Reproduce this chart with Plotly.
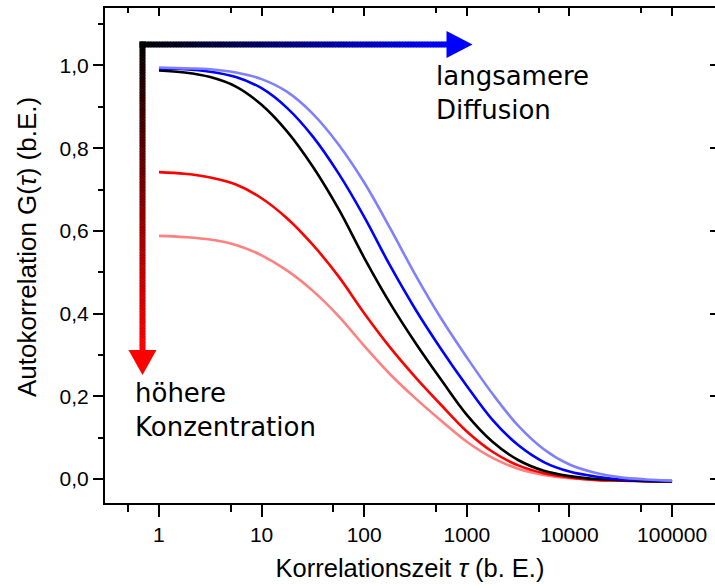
import math
import plotly.graph_objects as go

# Correlation time samples (quarter-decade spacing) and autocorrelation curves
tau = [1, 1.778, 3.162, 5.623, 10, 17.78, 31.62, 56.23, 100, 177.8, 316.2, 562.3,
       1000, 1778, 3162, 5623, 10000, 17780, 31620, 56230, 100000]

g_light_red = [0.588, 0.585, 0.579, 0.566, 0.541, 0.504, 0.455, 0.394, 0.322, 0.254, 0.195,
               0.141, 0.090, 0.051, 0.025, 0.010, 0.002, -0.002, -0.004, -0.005, -0.006]
g_red = [0.742, 0.738, 0.729, 0.712, 0.679, 0.630, 0.566, 0.490, 0.401, 0.319, 0.246,
         0.179, 0.115, 0.066, 0.033, 0.014, 0.004, -0.002, -0.004, -0.005, -0.006]
g_black = [0.988, 0.983, 0.972, 0.949, 0.905, 0.840, 0.755, 0.653, 0.535, 0.426, 0.329,
           0.240, 0.155, 0.090, 0.046, 0.020, 0.007, 0.000, -0.003, -0.005, -0.006]
g_blue = [0.992, 0.991, 0.985, 0.972, 0.945, 0.897, 0.828, 0.739, 0.634, 0.517, 0.410,
          0.314, 0.225, 0.143, 0.082, 0.041, 0.018, 0.006, -0.001, -0.003, -0.005]
g_light_blue = [0.995, 0.993, 0.991, 0.983, 0.967, 0.936, 0.883, 0.809, 0.717, 0.608, 0.493,
                0.388, 0.294, 0.206, 0.129, 0.072, 0.035, 0.015, 0.004, -0.001, -0.004]

x_tick_vals = [1, 10, 100, 1000, 10000, 100000]
x_tick_text = ["1", "10", "100", "1000", "10000", "100000"]
x_minor_vals = [0.5, 5, 50, 500, 5000, 50000]
y_tick_vals = [0.0, 0.2, 0.4, 0.6, 0.8, 1.0]
y_tick_text = ["0,0", "0,2", "0,4", "0,6", "0,8", "1,0"]
y_minor_vals = [0.1, 0.3, 0.5, 0.7, 0.9, 1.1]

W, H = 715, 588
L, R, T, B = 105, 715, 8, 503  # plot area in pixels
x_range = [math.log10(0.298), math.log10(262000)]
y_range = [-0.058, 1.139]

TICK_FONT = dict(family="Liberation Sans, Arial, sans-serif", size=21, color="black")
XTITLE_FONT = dict(family="Liberation Sans, Arial, sans-serif", size=25.5, color="black")
YTITLE_FONT = dict(family="Liberation Sans, Arial, sans-serif", size=26, color="black")
NOTE_FONT = dict(family="DejaVu Sans, Verdana, sans-serif", size=26, color="black")


def px(x):
    return (x - L) / (R - L)


def py(y):
    return (B - y) / (B - T)


fig = go.Figure()

series = [
    (g_light_red, "#ff8080", "x", "y"),
    (g_red, "#ff0000", "x", "y"),
    (g_black, "#000000", "x", "y"),
    (g_blue, "#0000ff", "x", "y"),
    (g_light_blue, "#8080ff", "x2", "y2"),
]
for vals, color, xa, ya in series:
    fig.add_trace(go.Scatter(
        x=tau, y=vals, mode="lines", xaxis=xa, yaxis=ya,
        line=dict(color=color, width=2.6, shape="spline", smoothing=1.0),
        showlegend=False, hoverinfo="skip",
    ))

shapes = []
# horizontal arrow: black -> blue gradient
hx0, hx1, hy0, hy1 = 139.5, 447.0, 41.5, 47.5
n = 110
for i in range(n):
    a = hx0 + (hx1 - hx0) * i / n
    b = hx0 + (hx1 - hx0) * (i + 1) / n + 0.6
    t = (i + 0.5) / n
    shapes.append(dict(type="rect", xref="paper", yref="paper",
                       x0=px(a), x1=px(min(b, hx1)), y0=py(hy1), y1=py(hy0),
                       fillcolor=f"rgb(0,0,{int(round(255 * t))})", line=dict(width=0)))
shapes.append(dict(type="path", xref="paper", yref="paper",
                   path=f"M {px(446.5)} {py(31)} L {px(472.5)} {py(44.5)} L {px(446.5)} {py(58)} Z",
                   fillcolor="#0000ff", line=dict(width=0)))
# vertical arrow: black -> red gradient
vx0, vx1, vy0, vy1 = 139.5, 145.5, 41.5, 350.5
for i in range(n):
    a = vy0 + (vy1 - vy0) * i / n
    b = vy0 + (vy1 - vy0) * (i + 1) / n + 0.6
    t = (i + 0.5) / n
    shapes.append(dict(type="rect", xref="paper", yref="paper",
                       x0=px(vx0), x1=px(vx1), y0=py(min(b, vy1)), y1=py(a),
                       fillcolor=f"rgb({int(round(255 * t))},0,0)", line=dict(width=0)))
shapes.append(dict(type="path", xref="paper", yref="paper",
                   path=f"M {px(128.5)} {py(350)} L {px(156.5)} {py(350)} L {px(142.5)} {py(375)} Z",
                   fillcolor="#ff0000", line=dict(width=0)))

annotations = [
    dict(text="langsamere<br>Diffusion", xref="paper", yref="paper",
         x=px(434), y=py(59), xanchor="left", yanchor="top", align="left",
         showarrow=False, font=NOTE_FONT),
    dict(text="höhere<br>Konzentration", xref="paper", yref="paper",
         x=px(133), y=py(376), xanchor="left", yanchor="top", align="left",
         showarrow=False, font=NOTE_FONT),
    # y-axis title
    dict(text="Autokorrelation G(<i>τ</i>) (b.E.)", xref="paper", yref="paper",
         x=px(27), y=py(247), xanchor="center", yanchor="middle", textangle=-90,
         showarrow=False, font=YTITLE_FONT),
]

fig.update_layout(
    width=W, height=H, autosize=False,
    margin=dict(l=L, r=W - R, t=T, b=H - B, pad=0),
    paper_bgcolor="white", plot_bgcolor="white",
    shapes=shapes, annotations=annotations,
    xaxis=dict(
        type="log", range=x_range, showgrid=False, zeroline=False,
        showline=True, linecolor="black", linewidth=2,
        ticks="outside", ticklen=12, tickwidth=2, tickcolor="black",
        tickvals=x_tick_vals, ticktext=x_tick_text, tickfont=TICK_FONT,
        minor=dict(tickvals=x_minor_vals, ticks="outside", ticklen=7, tickwidth=2, tickcolor="black"),
        title=dict(text="Korrelationszeit <i>τ</i> (b. E.)", font=XTITLE_FONT, standoff=14),
    ),
    yaxis=dict(
        range=y_range, showgrid=False, zeroline=False,
        showline=True, linecolor="black", linewidth=2,
        ticks="outside", ticklen=10, tickwidth=2, tickcolor="black",
        tickvals=y_tick_vals, ticktext=y_tick_text, tickfont=TICK_FONT,
        minor=dict(tickvals=y_minor_vals, ticks="outside", ticklen=5, tickwidth=2, tickcolor="black"),
    ),
    xaxis2=dict(
        type="log", range=x_range, overlaying="x", side="top", anchor="y2",
        showgrid=False, zeroline=False, showline=True, linecolor="black", linewidth=2,
        ticks="inside", ticklen=8, tickwidth=2, tickcolor="black",
        tickvals=x_tick_vals, showticklabels=False,
        minor=dict(tickvals=x_minor_vals, ticks="inside", ticklen=5, tickwidth=2, tickcolor="black"),
    ),
    yaxis2=dict(
        range=y_range, overlaying="y", side="right", anchor="x2",
        showgrid=False, zeroline=False, showline=False,
        ticks="inside", ticklen=5, tickwidth=2, tickcolor="black",
        tickvals=y_tick_vals, showticklabels=False,
    ),
)

fig.write_html("out.html")
